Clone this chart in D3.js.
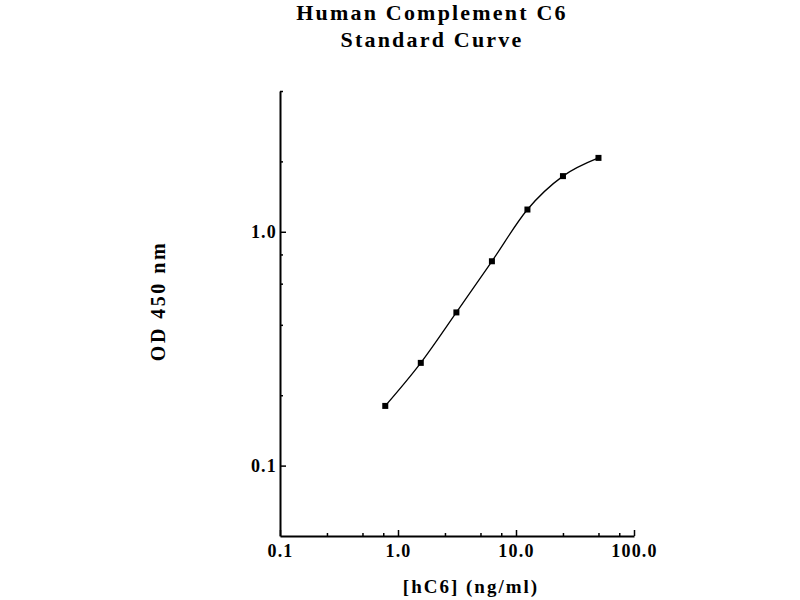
<!DOCTYPE html>
<html>
<head>
<meta charset="utf-8">
<script src="https://cdn.jsdelivr.net/npm/d3@7"></script>
<style>
  body { margin: 0; background: #fff; }
  text { font-family: "Liberation Serif", "DejaVu Serif", serif; font-weight: bold; fill: #000; }
</style>
</head>
<body>
<div id="chart"></div>
<script>
// standard curve data
var conc = [0.78, 1.56, 3.125, 6.25, 12.5, 25, 50];
var od = [0.18, 0.275, 0.452, 0.748, 1.245, 1.73, 2.07];

// ticks
var xMajor = [0.1, 1, 10, 100];
var xMajorLabels = ["0.1", "1.0", "10.0", "100.0"];
var xMinor = [0.25, 0.5, 0.75, 2.5, 5, 7.5, 25, 50, 75];
var yMajor = [0.1, 1];
var yMajorLabels = ["0.1", "1.0"];
var yMinor = [0.2, 0.4, 0.6, 0.8, 2, 4];

var titleLines = ["Human Complement C6", "Standard Curve"];
var xTitle = "[hC6] (ng/ml)";
var yTitle = "OD 450 nm";

var width = 800, height = 600;
var svg = d3.select("#chart").append("svg")
    .attr("width", width)
    .attr("height", height);

var x = d3.scaleLog().domain([0.1, 100]).range([280, 634]);
var y = d3.scaleLog().domain([0.05, 4]).range([536, 91]);

// title
svg.selectAll(".title")
    .data(titleLines)
    .enter().append("text")
    .attr("class", "title")
    .attr("x", 432)
    .attr("y", function(d, i) { return 20 + i * 27; })
    .attr("text-anchor", "middle")
    .attr("font-size", "22px")
    .attr("letter-spacing", "2.2px")
    .text(function(d) { return d; });

// x axis - major ticks with labels
var xAxis = svg.append("g")
    .attr("transform", "translate(0," + 536 + ")")
    .call(d3.axisBottom(x)
        .tickValues(xMajor)
        .tickSizeInner(-6)
        .tickSizeOuter(0)
        .tickPadding(8)
        .tickFormat(function(d, i) { return xMajorLabels[i]; }));
xAxis.select(".domain").attr("stroke-width", 2);
xAxis.selectAll(".tick line").attr("stroke-width", 1.5);
xAxis.selectAll("text")
    .attr("font-size", "18px")
    .attr("font-family", null)
    .attr("letter-spacing", "1.2px");

// x axis - minor ticks
var xMin = svg.append("g")
    .attr("transform", "translate(0," + 536 + ")")
    .call(d3.axisBottom(x)
        .tickValues(xMinor)
        .tickSizeInner(-3)
        .tickSizeOuter(0)
        .tickFormat(""));
xMin.select(".domain").remove();
xMin.selectAll(".tick line").attr("stroke-width", 1.5);

// y axis - major ticks with labels
var yAxis = svg.append("g")
    .attr("transform", "translate(280,0)")
    .call(d3.axisLeft(y)
        .tickValues(yMajor)
        .tickSizeInner(-6)
        .tickSizeOuter(0)
        .tickPadding(3)
        .tickFormat(function(d, i) { return yMajorLabels[i]; }));
yAxis.select(".domain").attr("stroke-width", 2);
yAxis.selectAll(".tick line").attr("stroke-width", 1.5);
yAxis.selectAll("text")
    .attr("font-size", "18px")
    .attr("font-family", null)
    .attr("letter-spacing", "1.2px");

// y axis - minor ticks
var yMin = svg.append("g")
    .attr("transform", "translate(280,0)")
    .call(d3.axisLeft(y)
        .tickValues(yMinor)
        .tickSizeInner(-3)
        .tickSizeOuter(0)
        .tickFormat(""));
yMin.select(".domain").remove();
yMin.selectAll(".tick line").attr("stroke-width", 1.5);

// axis titles
svg.append("text")
    .attr("x", 471)
    .attr("y", 593)
    .attr("text-anchor", "middle")
    .attr("font-size", "19px")
    .attr("letter-spacing", "2px")
    .text(xTitle);

svg.append("text")
    .attr("transform", "translate(165,301) rotate(-90)")
    .attr("text-anchor", "middle")
    .attr("font-size", "20px")
    .attr("letter-spacing", "2.5px")
    .text(yTitle);

// curve
var points = conc.map(function(c, i) { return {c: c, v: od[i]}; });

var line = d3.line()
    .x(function(d) { return x(d.c); })
    .y(function(d) { return y(d.v); })
    .curve(d3.curveMonotoneX);

svg.append("path")
    .datum(points)
    .attr("d", line)
    .attr("fill", "none")
    .attr("stroke", "#000")
    .attr("stroke-width", 1.3);

svg.selectAll(".pt")
    .data(points)
    .enter().append("rect")
    .attr("class", "pt")
    .attr("x", function(d) { return x(d.c) - 3; })
    .attr("y", function(d) { return y(d.v) - 3; })
    .attr("width", 6)
    .attr("height", 6)
    .attr("fill", "#000");
</script>
</body>
</html>
